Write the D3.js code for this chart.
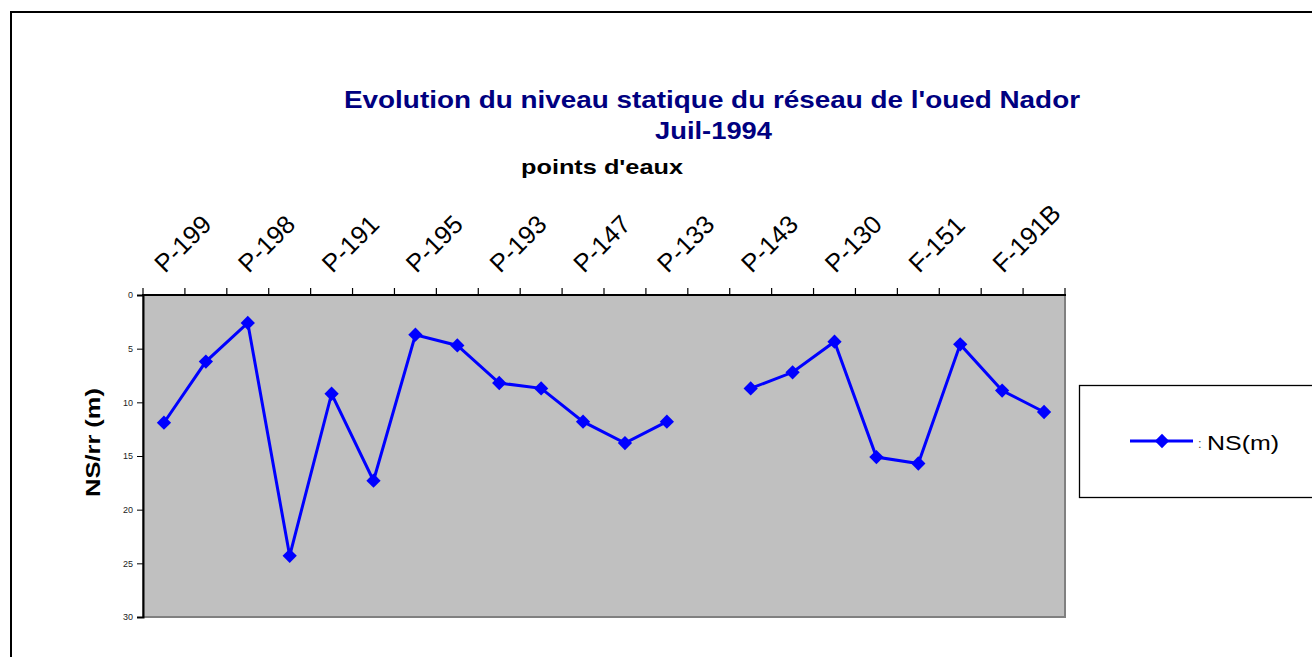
<!DOCTYPE html>
<html lang="fr">
<head>
<meta charset="utf-8">
<script src="https://cdn.jsdelivr.net/npm/d3@7"></script>
<style>
  body { margin:0; background:#fff; }
  text { font-family: "Liberation Sans", Arial, sans-serif; }
</style>
</head>
<body>
<script>
// points d'eaux (only every other name is printed on the chart)
var categories = ["P-199","","P-198","","P-191","","P-195","","P-193","","P-147","",
                  "P-133","","P-143","","P-130","","F-151","","F-191B",""];
// niveau statique NS (m), null = no measure
var nsValues = [11.9, 6.2, 2.6, 24.3, 9.2, 17.3, 3.7, 4.7, 8.2, 8.7, 11.8, 13.8,
                11.8, null, 8.7, 7.2, 4.35, 15.1, 15.7, 4.6, 8.9, 10.9];
var yTicks = [0, 5, 10, 15, 20, 25, 30];

var W = 1312, H = 657;
var pLeft = 143, pRight = 1065, pTop = 295, pBottom = 617;

var svg = d3.select("body").append("svg")
  .attr("width", W).attr("height", H);

// chart frame
svg.append("path")
  .attr("d", "M11,657 L11,12 L1312,12")
  .attr("fill", "none").attr("stroke", "#000").attr("stroke-width", 2);

var x = d3.scaleBand().domain(d3.range(categories.length)).range([pLeft, pRight]);
var y = d3.scaleLinear().domain([0, 30]).range([pTop, pBottom]);

// plot area
svg.append("rect")
  .attr("x", pLeft).attr("y", pTop)
  .attr("width", pRight - pLeft).attr("height", pBottom - pTop)
  .attr("fill", "#c0c0c0").attr("stroke", "#808080").attr("stroke-width", 2);

// left axis
var yAxis = svg.append("g")
  .attr("transform", "translate(" + pLeft + ",0)")
  .call(d3.axisLeft(y).tickValues(yTicks).tickSize(6).tickPadding(4));
yAxis.select(".domain").attr("stroke", "#000").attr("stroke-width", 2);
yAxis.selectAll("text").attr("font-size", 9).attr("fill", "#222")
  .attr("font-family", "Liberation Sans, Arial, sans-serif");

// top axis line and category boundary ticks
svg.append("line")
  .attr("x1", pLeft - 1).attr("x2", pRight + 1)
  .attr("y1", pTop).attr("y2", pTop)
  .attr("stroke", "#000").attr("stroke-width", 2);
var bounds = d3.range(categories.length + 1);
svg.selectAll(".xtick").data(bounds).enter().append("line")
  .attr("class", "xtick")
  .attr("x1", function(d){ return d < categories.length ? x(d) : pRight; })
  .attr("x2", function(d){ return d < categories.length ? x(d) : pRight; })
  .attr("y1", pTop).attr("y2", pTop - 7)
  .attr("stroke", "#000").attr("stroke-width", 1.2);

// category labels
svg.selectAll(".xlab").data(categories).enter().append("text")
  .attr("class", "xlab")
  .attr("transform", function(d, i){
    var cx = x(i) + x.bandwidth() / 2 + 1;
    return "translate(" + cx + ",274) rotate(-45)";
  })
  .attr("font-size", 25.5)
  .attr("fill", "#000")
  .text(function(d){ return d; });

// series
var line = d3.line()
  .defined(function(d){ return d != null; })
  .x(function(d, i){ return x(i) + x.bandwidth() / 2; })
  .y(function(d){ return y(d); });

svg.append("path")
  .datum(nsValues)
  .attr("d", line)
  .attr("fill", "none")
  .attr("stroke", "#0000ff")
  .attr("stroke-width", 3);

var diamond = d3.symbol().type(d3.symbolDiamond2).size(130);
svg.selectAll(".pt").data(nsValues.map(function(v, i){ return {v: v, i: i}; })
    .filter(function(d){ return d.v != null; }))
  .enter().append("path")
  .attr("class", "pt")
  .attr("transform", function(d){
    return "translate(" + (x(d.i) + x.bandwidth() / 2) + "," + y(d.v) + ")";
  })
  .attr("d", diamond)
  .attr("fill", "#0000ff");

// titles (the original text is drawn a little wide)
svg.append("text")
  .attr("x", 344).attr("y", 108)
  .attr("font-size", 24).attr("font-weight", "bold").attr("fill", "#000080")
  .attr("textLength", 736).attr("lengthAdjust", "spacingAndGlyphs")
  .text("Evolution du niveau statique du réseau de l'oued Nador");
svg.append("text")
  .attr("x", 655).attr("y", 139)
  .attr("font-size", 24).attr("font-weight", "bold").attr("fill", "#000080")
  .attr("textLength", 117).attr("lengthAdjust", "spacingAndGlyphs")
  .text("Juil-1994");
svg.append("text")
  .attr("x", 521).attr("y", 174)
  .attr("font-size", 21).attr("font-weight", "bold").attr("fill", "#000")
  .attr("textLength", 162).attr("lengthAdjust", "spacingAndGlyphs")
  .text("points d'eaux");

svg.append("text")
  .attr("transform", "translate(100,497) rotate(-90)")
  .attr("font-size", 21).attr("font-weight", "bold").attr("fill", "#000")
  .attr("textLength", 109).attr("lengthAdjust", "spacingAndGlyphs")
  .text("NS/rr (m)");

// legend
svg.append("rect")
  .attr("x", 1079.5).attr("y", 385.5)
  .attr("width", 260).attr("height", 112)
  .attr("fill", "#fff").attr("stroke", "#000").attr("stroke-width", 1.3);
svg.append("line")
  .attr("x1", 1130).attr("x2", 1193).attr("y1", 441).attr("y2", 441)
  .attr("stroke", "#0000ff").attr("stroke-width", 3);
svg.append("path")
  .attr("transform", "translate(1162,441)")
  .attr("d", diamond)
  .attr("fill", "#0000ff");
svg.append("text")
  .attr("x", 1198).attr("y", 448)
  .attr("font-size", 13).attr("fill", "#555")
  .text(":");
svg.append("text")
  .attr("x", 1207).attr("y", 450)
  .attr("font-size", 21).attr("fill", "#000")
  .attr("textLength", 72).attr("lengthAdjust", "spacingAndGlyphs")
  .text("NS(m)");
</script>
</body>
</html>
